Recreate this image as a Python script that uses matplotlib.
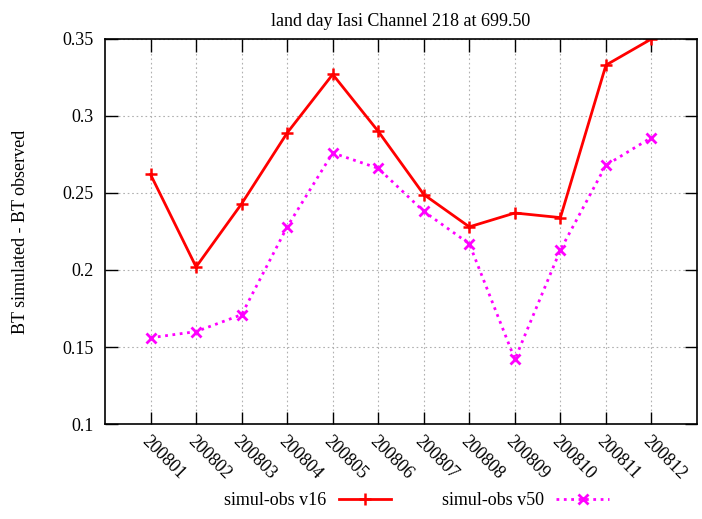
import numpy as np
import matplotlib.pyplot as plt

plt.rcParams['font.family'] = ['Liberation Serif', 'DejaVu Serif']

# monthly bias, two model versions
months = ['200801', '200802', '200803', '200804', '200805', '200806',
          '200807', '200808', '200809', '200810', '200811', '200812']
v16 = [0.262, 0.202, 0.243, 0.289, 0.327, 0.290, 0.249, 0.228, 0.237, 0.234, 0.333, 0.350]
v50 = [0.156, 0.160, 0.171, 0.228, 0.276, 0.266, 0.238, 0.217, 0.142, 0.213, 0.268, 0.286]

x = np.arange(1, len(months) + 1)

fig = plt.figure(figsize=(7.02, 5.19), dpi=100)
ax = fig.add_axes([0.1496, 0.183, 0.8433, 0.742])

ax.plot(x, v16, '-', color='#ff0000', lw=2, marker='+', ms=8, mew=1.8, label='simul-obs v16')
ax.plot(x, v50, ':', color='#ff00ff', lw=2, marker='x', ms=7, mew=2, label='simul-obs v50')

ax.set_xlim(0, 13)
ax.set_ylim(0.1, 0.35)
ax.set_xticks(x)
ax.set_xticklabels(months, rotation=-45, ha='left', va='top', rotation_mode='anchor', fontsize=13)
ax.set_yticks([0.1, 0.15, 0.2, 0.25, 0.3, 0.35])
ax.set_yticklabels(['0.1', '0.15', '0.2', '0.25', '0.3', '0.35'], fontsize=13)
ax.tick_params(direction='in', length=9, width=1, top=True, right=True, pad=8)
ax.tick_params(axis='x', pad=6)
ax.grid(True, color='#b0b0b0', linestyle=(0, (1.5, 2.5)), lw=0.8)
for s in ax.spines.values():
    s.set_linewidth(1.2)

ax.set_ylabel('BT simulated - BT observed', fontsize=13, labelpad=24)
ax.set_title('land day Iasi Channel 218 at 699.50', fontsize=13, pad=9)

fig.legend(loc='lower center', bbox_to_anchor=(0.593, -0.012), ncol=2, frameon=False,
           markerfirst=False, fontsize=13, handlelength=2.9, handletextpad=0.7,
           columnspacing=2.8)

fig.savefig('out.png')
